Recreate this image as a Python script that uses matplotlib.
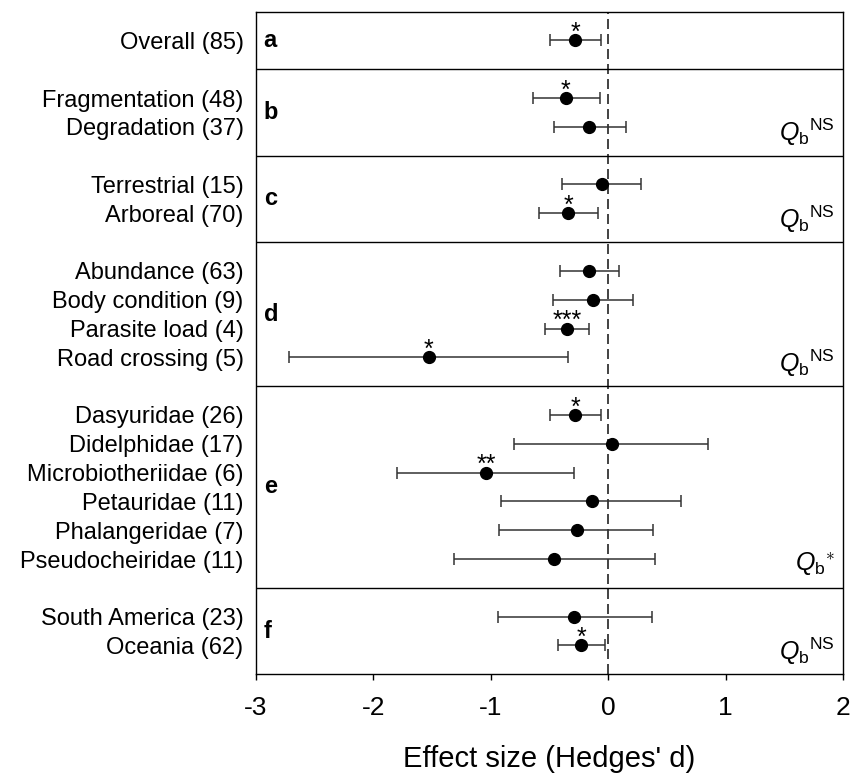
import matplotlib.pyplot as plt
import numpy as np

plt.rcParams['font.family'] = ['Liberation Sans', 'DejaVu Sans']
plt.rcParams['mathtext.fontset'] = 'custom'
plt.rcParams['mathtext.rm'] = 'Liberation Sans'
plt.rcParams['mathtext.it'] = 'Liberation Sans:italic'

# Moderator groups (panels a-f)
panel_letters = ['a', 'b', 'c', 'd', 'e', 'f']
panel_sizes = [1, 2, 2, 4, 6, 2]
panel_qb = [None, 'NS', 'NS', 'NS', '*', 'NS']

labels = ['Overall (85)',
          'Fragmentation (48)', 'Degradation (37)',
          'Terrestrial (15)', 'Arboreal (70)',
          'Abundance (63)', 'Body condition (9)', 'Parasite load (4)', 'Road crossing (5)',
          'Dasyuridae (26)', 'Didelphidae (17)', 'Microbiotheriidae (6)',
          'Petauridae (11)', 'Phalangeridae (7)', 'Pseudocheiridae (11)',
          'South America (23)', 'Oceania (62)']
effect = [-0.28,
          -0.36, -0.16,
          -0.05, -0.34,
          -0.16, -0.13, -0.35, -1.53,
          -0.28, 0.03, -1.04, -0.14, -0.27, -0.46,
          -0.29, -0.23]
ci_low = [-0.50,
          -0.64, -0.46,
          -0.39, -0.59,
          -0.41, -0.47, -0.54, -2.72,
          -0.50, -0.80, -1.80, -0.91, -0.93, -1.31,
          -0.94, -0.43]
ci_high = [-0.06,
           -0.07, 0.15,
           0.28, -0.09,
           0.09, 0.21, -0.16, -0.34,
           -0.06, 0.85, -0.29, 0.62, 0.38, 0.40,
           0.37, -0.03]
stars = ['*',
         '*', '',
         '', '*',
         '', '', '***', '*',
         '*', '', '**', '', '', '',
         '', '*']

# row positions: each panel gets one blank unit of padding
y_pos = []
panel_bounds = [0]
panel_last_row = []
start = 0
for n in panel_sizes:
    rows = [start + 1 + i for i in range(n)]
    y_pos.extend(rows)
    panel_last_row.append(rows[-1])
    start += n + 1
    panel_bounds.append(start)
y_pos = np.array(y_pos, dtype=float)
effect = np.array(effect)
err = [effect - np.array(ci_low), np.array(ci_high) - effect]

fig = plt.figure(figsize=(8.6, 7.75), dpi=100)
ax = fig.add_axes([0.2977, 0.130, 0.6826, 0.855])

ax.axvline(0, color='#222222', linestyle=(0, (6, 3)), linewidth=1.2, zorder=1)
ax.errorbar(effect, y_pos, xerr=err, fmt='o', color='black', ecolor='#333333',
            elinewidth=1.1, capsize=4.5, capthick=1.1, markersize=8.5, zorder=3)

for x, y, s in zip(effect, y_pos, stars):
    if s:
        ax.text(x, y - 0.02, s, ha='center', va='baseline', fontsize=18)

for b in panel_bounds[1:-1]:
    ax.axhline(b, color='black', linewidth=1.0)

for k, letter in enumerate(panel_letters):
    mid = (panel_bounds[k] + panel_bounds[k + 1]) / 2
    ax.text(0.013, mid, letter, transform=ax.get_yaxis_transform(),
            ha='left', va='center', fontsize=17, fontweight='bold')
    if panel_qb[k]:
        if panel_qb[k] == '*':
            txt = r'$Q_{\mathrm{b}}{}^{\ast}$'
        else:
            txt = r'$Q_{\mathrm{b}}{}^{\mathrm{NS}}$'
        ax.text(0.985, panel_last_row[k] + 0.2, txt, transform=ax.get_yaxis_transform(),
                ha='right', va='center', fontsize=18)

ax.set_xlim(-3, 2)
ax.set_ylim(panel_bounds[-1], 0)
ax.set_xticks(range(-3, 3))
ax.set_xticklabels([str(v) for v in range(-3, 3)])
ax.set_yticks(y_pos)
ax.set_yticklabels(labels)
ax.tick_params(axis='y', length=0, pad=9, labelsize=17)
ax.tick_params(axis='x', direction='out', length=4.5, width=1, labelsize=19, pad=11)
ax.set_xlabel("Effect size (Hedges' d)", fontsize=21, labelpad=18)
for sp in ax.spines.values():
    sp.set_linewidth(1.0)

fig.savefig('out.png', dpi=100)
